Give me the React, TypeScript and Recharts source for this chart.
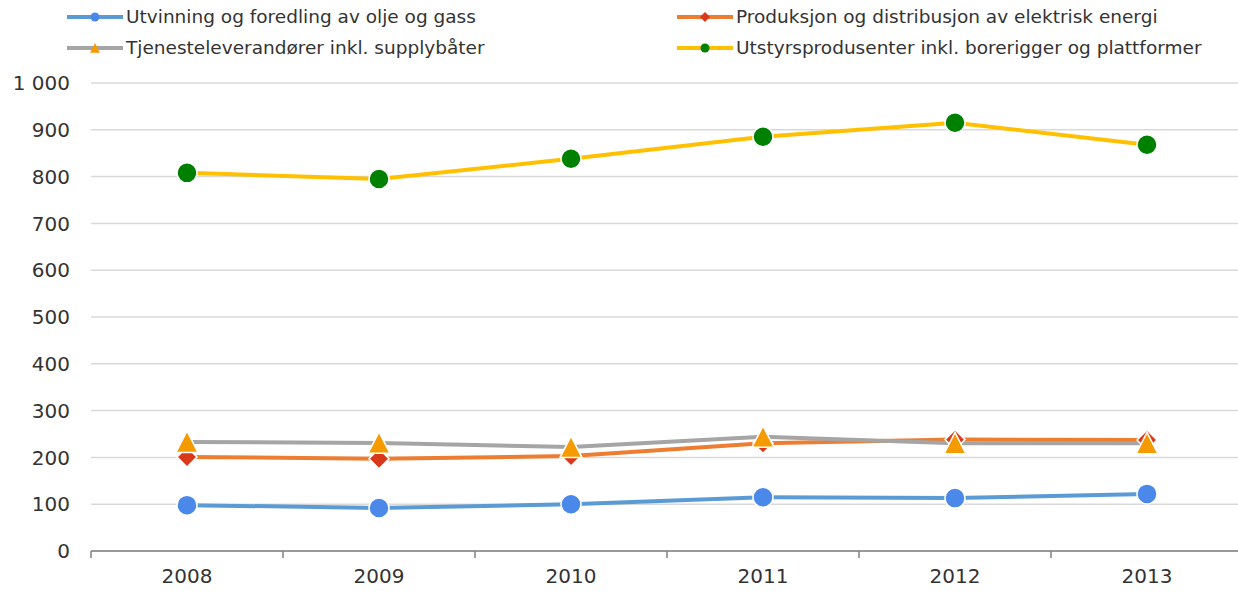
import { CartesianGrid, Line, LineChart, XAxis, YAxis } from "recharts";

const years = ["2008", "2009", "2010", "2011", "2012", "2013"];
const utvinning = [98, 92, 100, 115, 113, 122];
const produksjon = [201, 197, 203, 230, 238, 237];
const tjeneste = [233, 231, 222, 244, 230, 230];
const utstyr = [808, 795, 838, 885, 915, 868];
const yTicks = [0, 100, 200, 300, 400, 500, 600, 700, 800, 900, 1000];

const names = {
  utvinning: "Utvinning og foredling av olje og gass",
  produksjon: "Produksjon og distribusjon av elektrisk energi",
  tjeneste: "Tjenesteleverandører inkl. supplybåter",
  utstyr: "Utstyrsprodusenter inkl. borerigger og plattformer",
};

const data = years.map((year, i) => ({
  year,
  utvinning: utvinning[i],
  produksjon: produksjon[i],
  tjeneste: tjeneste[i],
  utstyr: utstyr[i],
}));

const FONT = "'DejaVu Sans', Verdana, sans-serif";

type Shape = "circle" | "diamond" | "triangle";

const marker = (shape: Shape, cx: number, cy: number, r: number, fill: string, stroke = "#fff", sw = 1.5, key?: any) => {
  if (shape === "circle") return <circle key={key} cx={cx} cy={cy} r={r} fill={fill} stroke={stroke} strokeWidth={sw} />;
  if (shape === "diamond")
    return (
      <polygon key={key} points={`${cx},${cy - r} ${cx + r},${cy} ${cx},${cy + r} ${cx - r},${cy}`} fill={fill} stroke={stroke} strokeWidth={sw} />
    );
  return (
    <polygon key={key} points={`${cx},${cy - r} ${cx + r},${cy + r * 0.95} ${cx - r},${cy + r * 0.95}`} fill={fill} stroke={stroke} strokeWidth={sw} />
  );
};

const dotFor = (shape: Shape, fill: string, r: number) => (props: any) =>
  marker(shape, props.cx, props.cy, r, fill, "#fff", 1.5, props.index);

const series = [
  { key: "utvinning", line: "#5b9bd5", mark: "#4a89ea", shape: "circle" as Shape, r: 10 },
  { key: "produksjon", line: "#ed7d31", mark: "#d9391a", shape: "diamond" as Shape, r: 10 },
  { key: "tjeneste", line: "#a5a5a5", mark: "#f59b00", shape: "triangle" as Shape, r: 11 },
  { key: "utstyr", line: "#ffc000", mark: "#008000", shape: "circle" as Shape, r: 10 },
];

const YearTick = (props: any) => {
  const { x, y, width, visibleTicksCount, payload } = props;
  const half = width / visibleTicksCount / 2;
  return (
    <g>
      <line x1={x - half} x2={x - half} y1={y} y2={y + 7} stroke="#808080" strokeWidth={1.5} />
      <text x={x} y={y + 18} dy="0.71em" textAnchor="middle" fill="#333" fontSize={20} fontFamily={FONT}>
        {payload.value}
      </text>
    </g>
  );
};

const LegendItem = ({ s }: { s: (typeof series)[number] }) => (
  <div style={{ display: "flex", alignItems: "center", height: 31 }}>
    <svg width={56} height={14}>
      <line x1={0} x2={56} y1={7} y2={7} stroke={s.line} strokeWidth={4} />
      {marker(s.shape, 28, 7, s.shape === "circle" ? 4.5 : 5, s.mark, "none", 0)}
    </svg>
    <span style={{ marginLeft: 3, fontSize: 18.5, color: "#333", whiteSpace: "nowrap" }}>
      {names[s.key as keyof typeof names]}
    </span>
  </div>
);

export default function App() {
  const fmt = (v: number) => String(v).replace(/\B(?=(\d{3})+(?!\d))/g, " ");
  return (
    <div style={{ position: "absolute", left: 0, top: 0, width: 1238, height: 591, overflow: "hidden", background: "#fff", fontFamily: FONT }}>
      <div style={{ position: "absolute", left: 67, top: 1, display: "grid", gridTemplateColumns: "610px auto", zIndex: 2 }}>
        <LegendItem s={series[0]} />
        <LegendItem s={series[1]} />
        <LegendItem s={series[2]} />
        <LegendItem s={series[3]} />
      </div>
      <LineChart width={1244} height={591} data={data} margin={{ top: 83, right: 1, left: 0, bottom: 10 }}>
        <CartesianGrid vertical={false} stroke="#d9d9d9" strokeWidth={1.5} />
        <XAxis
          dataKey="year"
          scale="band"
          height={30}
          axisLine={{ stroke: "#808080", strokeWidth: 1.5 }}
          tickLine={false}
          tickSize={0}
          tickMargin={0}
          interval={0}
          tick={<YearTick />}
        />
        <YAxis
          width={91}
          domain={[0, 1000]}
          ticks={yTicks}
          axisLine={false}
          tickLine={false}
          tickSize={0}
          tickMargin={21}
          tickFormatter={fmt}
          tick={{ fill: "#333", fontSize: 20, fontFamily: FONT }}
        />
        {series.map((s) => (
          <Line
            key={s.key}
            dataKey={s.key}
            name={names[s.key as keyof typeof names]}
            type="linear"
            stroke={s.line}
            strokeWidth={4}
            dot={dotFor(s.shape, s.mark, s.r)}
            activeDot={false}
            isAnimationActive={false}
          />
        ))}
      </LineChart>
    </div>
  );
}
